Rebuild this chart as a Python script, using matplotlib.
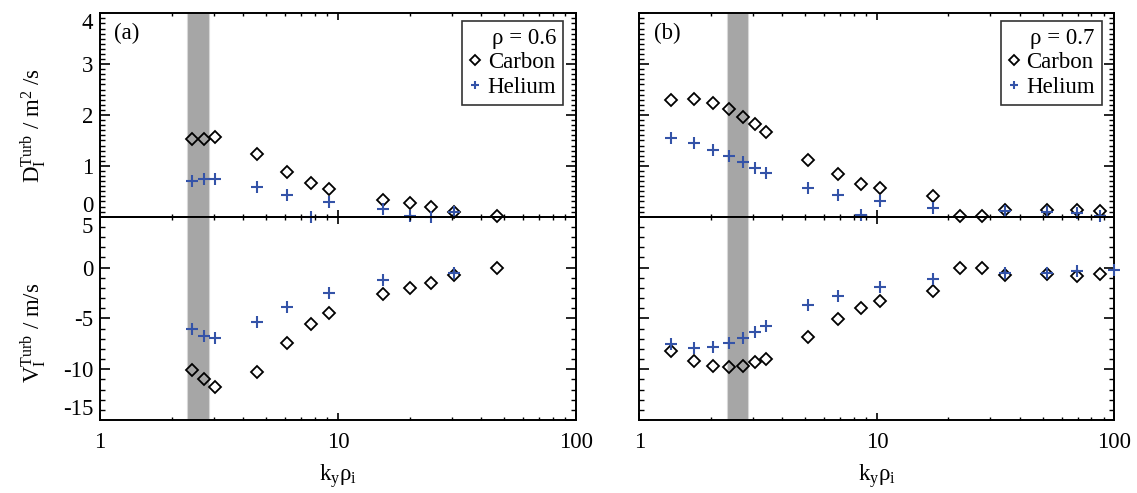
import numpy as np
import matplotlib
matplotlib.use("Agg")
import matplotlib.pyplot as plt
from matplotlib.ticker import MultipleLocator, LogLocator, FixedLocator, NullFormatter

plt.rcParams['font.family'] = ['Liberation Serif', 'DejaVu Serif']
plt.rcParams['mathtext.fontset'] = 'custom'
plt.rcParams['mathtext.rm'] = 'Liberation Serif'
plt.rcParams['mathtext.it'] = 'Liberation Serif:italic'
plt.rcParams['mathtext.bf'] = 'Liberation Serif:bold'

nan = np.nan
# ---------------- data ----------------
ky_a = [2.44, 2.74, 3.05, 4.58, 6.11, 7.69, 9.18, 15.4, 20.0, 24.7, 30.7, 46.4]
D_carbon_a = [1.53, 1.53, 1.57, 1.23, 0.87, 0.67, 0.55, 0.33, 0.26, 0.20, 0.09, 0.01]
V_carbon_a = [-10.1, -11.0, -11.8, -10.3, -7.4, -5.6, -4.5, -2.65, -2.0, -1.5, -0.7, -0.03]
D_helium_a = [0.70, 0.74, 0.75, 0.58, 0.43, 0.0, 0.29, 0.15, 0.02, 0.0, 0.09, nan]
V_helium_a = [-6.07, -6.7, -6.9, -5.4, -3.9, nan, -2.5, -1.2, nan, nan, -0.5, nan]

ky_b = [1.36, 1.70, 2.04, 2.39, 2.73, 3.07, 3.43, 5.14, 6.87, 8.61, 10.3, 17.2,
        22.3, 27.6, 34.6, 51.9, 69.7, 86.9, 99.5]
D_carbon_b = [2.30, 2.31, 2.23, 2.11, 1.97, 1.83, 1.67, 1.11, 0.83, 0.65, 0.56, 0.40,
              0.01, 0.01, 0.14, 0.13, 0.14, 0.11, nan]
V_carbon_b = [-8.26, -9.2, -9.67, -9.77, -9.67, -9.34, -8.98, -6.79, -5.02, -3.97, -3.31, -2.33,
              -0.03, -0.03, -0.69, -0.62, -0.85, -0.59, nan]
D_helium_b = [1.54, 1.44, 1.31, 1.20, 1.07, 0.96, 0.85, 0.56, 0.43, 0.03, 0.30, 0.18,
              nan, nan, 0.11, 0.10, 0.07, 0.02, nan]
V_helium_b = [-7.54, -7.9, -7.8, -7.44, -6.92, -6.33, -5.71, -3.64, -2.76, nan, -1.94, -1.12,
              nan, nan, -0.56, -0.56, -0.3, nan, -0.26]

band = (2.33, 2.86)
rho_labels = ['ρ = 0.6', 'ρ = 0.7']
panel_labels = ['(a)', '(b)']
D_ticks = [0, 1, 2, 3, 4]
V_ticks = [-15, -10, -5, 0, 5]
x_ticks = [1, 10, 100]
x_ticklabels = ['1', '10', '100']

# ---------------- figure ----------------
W, H = 1137, 493
fig = plt.figure(figsize=(W / 100, H / 100), dpi=100)

def fx(px):
    return px / W

def fy(py):
    return 1 - py / H

blue = '#3453a8'
FS = 16.5

panels = [
    dict(left=100, right=576, ky=ky_a, Dc=D_carbon_a, Vc=V_carbon_a, Dh=D_helium_a, Vh=V_helium_a),
    dict(left=639.3, right=1114.5, ky=ky_b, Dc=D_carbon_b, Vc=V_carbon_b, Dh=D_helium_b, Vh=V_helium_b),
]
top_px, mid_px, bot_px = 13.3, 216.7, 420.0

for i, p in enumerate(panels):
    w = fx(p['right'] - p['left'])
    axT = fig.add_axes([fx(p['left']), fy(mid_px), w, (mid_px - top_px) / H])
    axB = fig.add_axes([fx(p['left']), fy(bot_px), w, (bot_px - mid_px) / H])
    axT.set_facecolor('none')
    axB.set_facecolor('none')
    for ax in (axT, axB):
        ax.set_xscale('log')
        ax.set_xlim(1, 100)
        ax.axvspan(band[0], band[1], facecolor='#a6a6a6', edgecolor='#d8d8d8', lw=0.8, zorder=0)
        ax.xaxis.set_major_locator(FixedLocator(x_ticks))
        ax.xaxis.set_minor_locator(LogLocator(base=10, subs=np.arange(2, 10)))
        ax.xaxis.set_minor_formatter(NullFormatter())
        ax.tick_params(axis='x', which='major', direction='in', length=5, width=1.2,
                       top=True, bottom=True, labelsize=FS, pad=9)
        ax.tick_params(axis='x', which='minor', direction='in', length=2, width=1.0,
                       top=True, bottom=True)
        ax.tick_params(axis='y', which='major', direction='in', length=7, width=1.2,
                       left=True, right=True, labelsize=FS, pad=5)
        ax.tick_params(axis='y', which='minor', direction='in', length=3.5, width=1.0,
                       left=True, right=True)
        for s in ax.spines.values():
            s.set_linewidth(1.4)

    # top: diffusion
    axT.set_ylim(0, 4)
    axT.yaxis.set_major_locator(FixedLocator(D_ticks))
    axT.yaxis.set_minor_locator(MultipleLocator(0.1))
    axT.tick_params(axis='x', labelbottom=False)
    lc, = axT.plot(p['ky'], p['Dc'], linestyle='none', marker='D', ms=6.2, mfc='none',
                   mec='black', mew=1.3, clip_on=False, zorder=3, label='Carbon')
    lh, = axT.plot(p['ky'], p['Dh'], linestyle='none', marker='+', ms=8, mec=blue,
                   mew=1.5, clip_on=False, zorder=3, label='Helium')

    # bottom: velocity
    axB.set_ylim(-15, 5)
    axB.yaxis.set_major_locator(FixedLocator(V_ticks))
    axB.yaxis.set_minor_locator(MultipleLocator(1))
    axB.plot(p['ky'], p['Vc'], linestyle='none', marker='D', ms=6.2, mfc='none',
             mec='black', mew=1.3, clip_on=False, zorder=3)
    axB.plot(p['ky'], p['Vh'], linestyle='none', marker='+', ms=8, mec=blue,
             mew=1.5, clip_on=False, zorder=3)
    axB.set_xticklabels(x_ticklabels)
    axB.set_xlabel('k$_\\mathrm{y}$ρ$_\\mathrm{i}$', fontsize=FS, labelpad=6)

    if i == 0:
        axT.set_yticklabels([str(t) for t in D_ticks])
        axB.set_yticklabels([str(t) for t in V_ticks])
        tl = axT.get_yticklabels()
        tl[0].set_va('bottom'); tl[-1].set_va('top')
        tl = axB.get_yticklabels()
        tl[0].set_va('bottom'); tl[-1].set_va('top')
        axT.set_ylabel('D$_\\mathrm{I}^\\mathrm{Turb}$ / m$^\\mathrm{2}$ /s', fontsize=FS)
        axB.set_ylabel('V$_\\mathrm{I}^\\mathrm{Turb}$ / m/s', fontsize=FS)
        axT.yaxis.set_label_coords(-0.108, 0.45)
        axB.yaxis.set_label_coords(-0.108, 0.43)
    else:
        axT.tick_params(axis='y', labelleft=False)
        axB.tick_params(axis='y', labelleft=False)

    axT.text(0.03, 0.955, panel_labels[i], transform=axT.transAxes, fontsize=FS,
             ha='left', va='top')

    # legend
    leg = axT.legend(handles=[lc, lh], title=rho_labels[i], loc='upper right',
                     bbox_to_anchor=(0.973, 0.962), borderaxespad=0, fontsize=FS,
                     title_fontsize=FS, frameon=True, fancybox=False, edgecolor='black',
                     handlelength=0.5, handletextpad=0.3, borderpad=0.3,
                     labelspacing=0.15, markerscale=0.75, alignment='right')
    leg.get_frame().set_linewidth(1.2)

fig.savefig('out.png', dpi=100)
